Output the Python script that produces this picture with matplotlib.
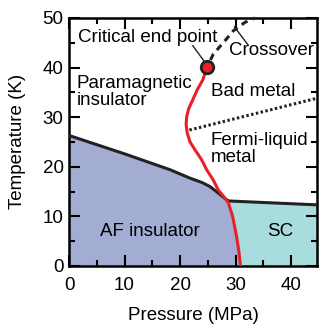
import matplotlib.pyplot as plt
from matplotlib.ticker import MultipleLocator

plt.rcParams["font.family"] = ["Liberation Sans", "DejaVu Sans"]

# phase boundaries (pressure MPa, temperature K)
af_p = [0, 10, 18.2, 21.8, 24.0, 25.4, 26.9, 28.1, 28.7]
af_t = [26.3, 22.6, 19.4, 17.7, 16.8, 16.0, 14.7, 13.6, 13.1]
sc_p = [28.7, 45]
sc_t = [13.1, 12.3]
red_p = [24.9, 24.1, 23.1, 22.3, 21.6, 21.2, 21.1, 21.3, 21.8, 22.7,
         23.9, 24.8, 26.0, 26.9, 28.0, 28.7, 29.5, 30.2, 30.6, 30.9]
red_t = [40.2, 37.5, 35.5, 33.5, 31.8, 30.1, 28.5, 26.8, 25.0, 23.4,
         21.4, 19.4, 17.3, 15.3, 13.8, 12.8, 9.9, 5.9, 3.0, 0.0]
cross_p = [24.9, 26.0, 28.1, 29.6, 31.7, 33.5]
cross_t = [40.2, 42.7, 45.4, 47.4, 49.1, 50.0]
fl_p = [21.7, 45]
fl_t = [27.4, 33.9]
cep_p, cep_t = 24.9, 40.2

fig = plt.figure(figsize=(3.32, 3.32), dpi=100)
ax = fig.add_axes([0.208, 0.199, 0.747, 0.747])

# filled regions below the black boundary, split by the red line
n_lo = 5
red_lo_p = red_p[-n_lo:]
red_lo_t = red_t[-n_lo:]
ax.fill(af_p + red_lo_p + [0], af_t + red_lo_t + [0],
        color="#a3acd3", lw=0, zorder=1)
ax.fill(sc_p + [45] + red_lo_p[::-1], sc_t + [0] + red_lo_t[::-1],
        color="#a8dcdd", lw=0, zorder=1)

ax.plot(af_p, af_t, color="#222222", lw=2.2, zorder=3)
ax.plot(sc_p, sc_t, color="#222222", lw=2.2, zorder=3)
ax.plot(red_p, red_t, color="#e8202a", lw=2.2, zorder=4, solid_joinstyle="round")
ax.plot(cross_p, cross_t, color="#222222", lw=2.2, ls=(1.5, (2.2, 1.7)), zorder=3,
        clip_on=False)
ax.plot(fl_p, fl_t, color="#222222", lw=2.2, ls=(0, (0.8, 0.8)), zorder=3)
ax.plot([cep_p], [cep_t], "o", ms=9, mfc="#e8202a", mec="#222222", mew=2, zorder=5)

fs = 13.5
ax.text(1.4, 35.0, "Paramagnetic\ninsulator", fontsize=fs, va="center", ha="left",
        linespacing=1.0)
ax.text(25.5, 35.1, "Bad metal", fontsize=fs, va="center", ha="left")
ax.text(25.5, 23.6, "Fermi-liquid\nmetal", fontsize=fs, va="center", ha="left",
        linespacing=1.0)
ax.text(14.6, 6.9, "AF insulator", fontsize=fs, va="center", ha="center")
ax.text(38.0, 6.9, "SC", fontsize=fs, va="center", ha="center")
ax.text(1.6, 46.0, "Critical end point", fontsize=fs, va="center", ha="left")
ax.text(28.8, 43.5, "Crossover", fontsize=fs, va="center", ha="left")
ax.plot([22.3, 24.4], [44.4, 41.2], color="#222222", lw=1.0, zorder=4)
ax.plot([29.8, 32.3], [48.2, 44.5], color="#222222", lw=1.0, zorder=4)

ax.set_xlim(0, 44.7)
ax.set_ylim(0, 50)
ax.xaxis.set_major_locator(MultipleLocator(10))
ax.xaxis.set_minor_locator(MultipleLocator(5))
ax.yaxis.set_major_locator(MultipleLocator(10))
ax.yaxis.set_minor_locator(MultipleLocator(5))
ax.tick_params(which="both", direction="in", top=True, right=True, width=1.5,
               labelsize=fs, pad=4)
ax.tick_params(axis="x", which="both", pad=8)
ax.tick_params(which="major", length=8)
ax.tick_params(which="minor", length=4)
for s in ax.spines.values():
    s.set_linewidth(1.8)
ax.set_xlabel("Pressure (MPa)", fontsize=fs, labelpad=9)
ax.set_ylabel("Temperature (K)", fontsize=fs, labelpad=12)

fig.savefig("out.png", dpi=100)
